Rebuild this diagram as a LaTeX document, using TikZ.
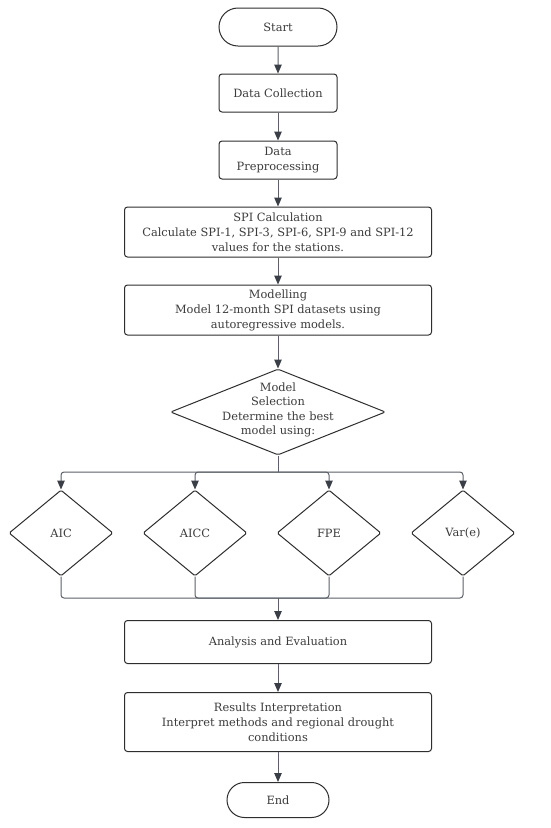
\documentclass[tikz,border=0pt]{standalone}
\usepackage{fontspec}
\setmainfont{DejaVu Serif}
\usetikzlibrary{shapes.geometric,shapes.misc,arrows.meta}
\definecolor{linegray}{HTML}{5C6068}
\definecolor{tipgray}{HTML}{3A3F47}
\definecolor{textgray}{HTML}{3C3C3C}
\definecolor{boxgray}{HTML}{2E2E2E}
\tikzset{
  terminal/.style={draw=boxgray, line width=1pt, rounded rectangle, align=center,
    text=textgray, minimum height=38pt, inner sep=0pt},
  process/.style={draw=boxgray, line width=1pt, rectangle, rounded corners=3pt,
    align=center, text=textgray, inner sep=0pt},
  decision/.style={draw=boxgray, line width=1pt, diamond, rounded corners=1.5pt,
    inner sep=0pt, text=textgray},
  label/.style={align=center, text=textgray, inner sep=0pt},
  flow/.style={draw=linegray, line width=1pt,
    -{Triangle[length=9pt,width=7.5pt,color=tipgray]}},
  wire/.style={draw=linegray, line width=1pt, rounded corners=3pt},
}
\begin{document}
\begin{tikzpicture}[x=1pt,y=-1pt,font=\fontsize{11.4}{15}\selectfont]
  \useasboundingbox[fill=white] (0,0) rectangle (550,828);
  % main column
  \node[terminal, minimum width=118pt] (start) at (278,27) {Start};
  \node[process, minimum width=118pt, minimum height=38pt] (collect) at (278,93) {Data Collection};
  \node[process, minimum width=118pt, minimum height=38pt] (prep) at (278,160) {Data\\Preprocessing};
  \node[process, minimum width=307pt, minimum height=50pt] (spi) at (278,232)
    {SPI Calculation\\Calculate SPI-1, SPI-3, SPI-6, SPI-9 and SPI-12\\values for the stations.};
  \node[process, minimum width=307pt, minimum height=50pt] (model) at (278,310)
    {Modelling\\Model 12-month SPI datasets using\\autoregressive models.};
  \node[decision, minimum width=215pt, minimum height=86pt] (select) at (278,412) {};
  \node[label, font=\fontsize{11.4}{14.5}\selectfont] (selecttxt) at (278,410)
    {Model\\Selection\\Determine the best\\model using:};
  % criteria
  \node[decision, minimum width=104pt, minimum height=86pt] (aic) at (61,533) {AIC};
  \node[decision, minimum width=104pt, minimum height=86pt] (aicc) at (195,533) {AICC};
  \node[decision, minimum width=104pt, minimum height=86pt] (fpe) at (329,533) {FPE};
  \node[decision, minimum width=104pt, minimum height=86pt] (vare) at (463,533) {Var(e)};
  \node[process, minimum width=307pt, minimum height=43pt] (analysis) at (278,642) {Analysis and Evaluation};
  \node[process, minimum width=307pt, minimum height=59pt] (results) at (278,722)
    {Results Interpretation\\Interpret methods and regional drought\\conditions};
  \node[terminal, minimum width=102pt, minimum height=35pt] (end) at (278,800) {End};

  \coordinate (split) at (278,472);
  \coordinate (join) at (278,598);

  \draw[flow] (start) -- (collect);
  \draw[flow] (collect) -- (prep);
  \draw[flow] (prep) -- (spi);
  \draw[flow] (spi) -- (model);
  \draw[flow] (model) -- (select.north);
  \draw[wire] (select.south) -- (split);
  \foreach \c in {aic,aicc,fpe,vare}
    \draw[flow, rounded corners=3pt] (split) -| (\c.north);
  \foreach \c in {aic,aicc,fpe,vare}
    \draw[wire] (\c.south) |- (join);
  \draw[flow] (join) -- (analysis);
  \draw[flow] (analysis) -- (results);
  \draw[flow] (results) -- (end);
\end{tikzpicture}
\end{document}
